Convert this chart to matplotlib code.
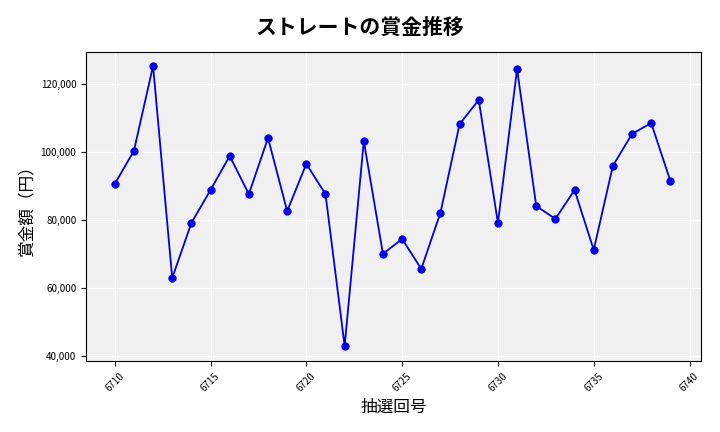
import matplotlib
matplotlib.use("Agg")
import matplotlib.pyplot as plt
from matplotlib.ticker import FuncFormatter

plt.rcParams['font.family'] = ['Noto Sans CJK JP', 'DejaVu Sans']

draws = list(range(6710, 6740))
prizes = [90600, 100300, 125300, 62900, 79100, 88800, 98800, 87600, 104100, 82600,
          96500, 87600, 42900, 103200, 70000, 74400, 65600, 82100, 108200, 115300,
          79100, 124400, 84100, 80300, 88800, 71200, 95900, 105300, 108500, 91500]

fig = plt.figure(figsize=(7.2, 4.32), dpi=100)
ax = fig.add_axes([86/720, 1-361/432, 615/720, 309/432])
ax.set_facecolor('#f0f0f0')
ax.grid(True, color='white', linewidth=1)
ax.set_axisbelow(True)
ax.plot(draws, prizes, color='#0000dd', marker='o', markersize=5, linewidth=1.3)
ax.set_xlim(6708.5, 6740.6)
ax.set_ylim(38500, 129400)
ax.set_xticks(range(6710, 6741, 5))
ax.yaxis.set_major_formatter(FuncFormatter(lambda v, p: f"{int(v):,}"))
ax.tick_params(axis='x', labelrotation=45, labelsize=7)
ax.tick_params(axis='y', labelsize=7)
ax.set_xlabel('抽選回号', fontsize=12)
ax.set_ylabel('賞金額（円）', fontsize=12)
fig.suptitle('ストレートの賞金推移', fontsize=15, fontweight='bold', y=0.962)
fig.savefig('out.png', dpi=100)
